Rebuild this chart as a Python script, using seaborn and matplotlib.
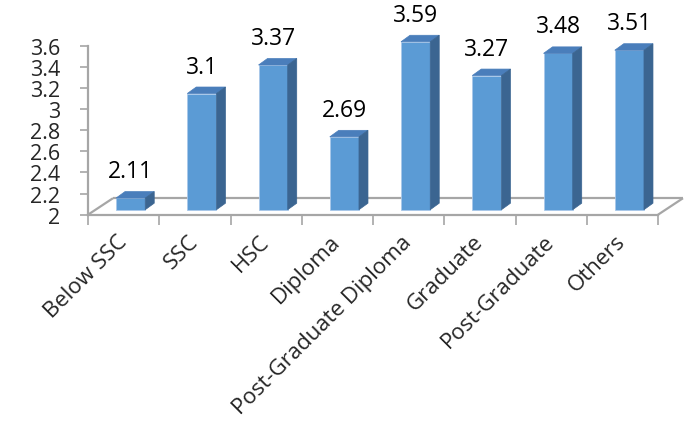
import numpy as np
import pandas as pd
import matplotlib
matplotlib.use("Agg")
import matplotlib.pyplot as plt
from matplotlib.patches import Polygon
from matplotlib.transforms import ScaledTranslation
import seaborn as sns

categories = ["Below SSC", "SSC", "HSC", "Diploma", "Post-Graduate Diploma",
              "Graduate", "Post-Graduate", "Others"]
scores = [2.11, 3.10, 3.37, 2.69, 3.59, 3.27, 3.48, 3.51]
y_ticks = [2, 2.2, 2.4, 2.6, 2.8, 3, 3.2, 3.4, 3.6]
y_tick_labels = ["2", "2.2", "2.4", "2.6", "2.8", "3", "3.2", "3.4", "3.6"]
BASE = 2.0

FRONT = "#5B9BD5"
TOP = "#4A7EBB"
SIDE = "#3B6591"
EDGE = "#A9C8EA"
GRID = "#A6A6A6"

sns.set_theme(style="white")
plt.rcParams["font.family"] = ["Open Sans", "DejaVu Sans"]

W, H, DPI = 698, 431, 100
fig = plt.figure(figsize=(W / DPI, H / DPI), dpi=DPI)
x0, x1 = 88, 658
y_top, y_bot = 46.7, 215.7
ax = fig.add_axes([x0 / W, (H - y_bot) / H, (x1 - x0) / W, (y_bot - y_top) / H])

df = pd.DataFrame({"category": categories, "score": scores})
sns.barplot(data=df, x="category", y="score", color=FRONT, width=0.41,
            saturation=1, ax=ax, zorder=3)
ax.set_xlim(-0.5, len(categories) - 0.5)
ax.set_ylim(y_ticks[0], y_ticks[-1])
ax.set_xlabel("")
ax.set_ylabel("")

# pixel -> data conversions
px_x = 1.0 / (ax.transData.transform((1, 0))[0] - ax.transData.transform((0, 0))[0])
px_y = 1.0 / (ax.transData.transform((0, 1))[1] - ax.transData.transform((0, 0))[1])

# bars sit partway into the floor depth
bar_shift = ScaledTranslation(7 / DPI, 5 / DPI, fig.dpi_scale_trans)
bar_trans = ax.transData + bar_shift
dx, dy = 9 * px_x, 6.5 * px_y

for p in ax.patches:
    h = p.get_height()
    p.set_y(BASE)
    p.set_height(h - BASE)
    p.set_transform(bar_trans)
    p.set_clip_on(False)
    p.set_edgecolor(EDGE)
    p.set_linewidth(0.6)
    left, w = p.get_x(), p.get_width()
    top = h
    right = left + w
    top_face = Polygon([(left, top), (right, top), (right + dx, top + dy), (left + dx, top + dy)],
                       closed=True, facecolor=TOP, edgecolor=TOP, linewidth=0.5,
                       transform=bar_trans, clip_on=False, zorder=3)
    side_face = Polygon([(right, BASE), (right + dx, BASE + dy), (right + dx, top + dy), (right, top)],
                        closed=True, facecolor=SIDE, edgecolor=SIDE, linewidth=0.5,
                        transform=bar_trans, clip_on=False, zorder=3)
    ax.add_patch(top_face)
    ax.add_patch(side_face)

# floor parallelogram
fdx, fdy = 25 * px_x, 16.5 * px_y
xl, xr = -0.5, len(categories) - 0.5
floor_kw = dict(color=GRID, linewidth=1.6, clip_on=False, zorder=1, solid_capstyle="butt")
ax.plot([xl, xl + fdx], [BASE, BASE + fdy], **floor_kw)
ax.plot([xl + fdx, xr + fdx], [BASE + fdy, BASE + fdy], **floor_kw)
ax.plot([xr, xr + fdx], [BASE, BASE + fdy], **floor_kw)

# value labels above each bar
for i, v in enumerate(scores):
    ax.annotate(f"{v:g}", xy=(i, v), xytext=(7, 32), textcoords="offset pixels",
                ha="center", va="center", fontsize=16.5, color="black")

# axes styling
for s in ["top", "right"]:
    ax.spines[s].set_visible(False)
for s in ["left", "bottom"]:
    ax.spines[s].set_color(GRID)
    ax.spines[s].set_linewidth(1.6)
    ax.spines[s].set_zorder(2)

ax.set_yticks(y_ticks)
ax.set_yticklabels(y_tick_labels)
ax.tick_params(axis="y", which="major", direction="out", length=6, width=1.2,
               color=GRID, labelsize=15.5, pad=14, left=True)

ax.set_xticks(np.arange(len(categories)))
ax.set_xticks(np.arange(len(categories) + 1) - 0.5, minor=True)
ax.tick_params(axis="x", which="major", length=0, labelsize=16, pad=17)
ax.tick_params(axis="x", which="minor", direction="out", length=7, width=1.2,
               color=GRID, bottom=True)
for lab in ax.get_xticklabels():
    lab.set_rotation(45)
    lab.set_ha("right")
    lab.set_va("center")
    lab.set_rotation_mode("anchor")

fig.savefig("out.png", dpi=DPI, facecolor="white")
